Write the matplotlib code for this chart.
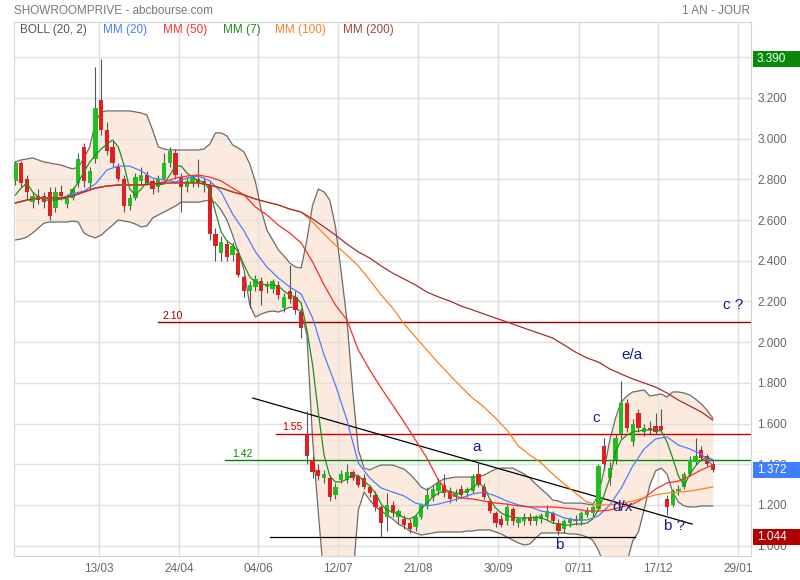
import numpy as np
import matplotlib.pyplot as plt
from matplotlib.patches import Rectangle
import matplotlib.transforms as mtransforms

plt.rcParams['font.family'] = ['Liberation Sans', 'DejaVu Sans']

# one candle per 2 trading days
opens = [2.79, 2.88, 2.80, 2.69, 2.72, 2.72, 2.74, 2.66, 2.74, 2.68,
         2.71, 2.78, 2.96, 2.78, 2.90, 3.19, 3.04, 2.96, 2.86, 2.80,
         2.67, 2.71, 2.79, 2.82, 2.79, 2.76, 2.80, 2.88, 2.93, 2.81,
         2.76, 2.78, 2.80, 2.79, 2.77, 2.53, 2.44, 2.48, 2.43, 2.44,
         2.32, 2.25, 2.27, 2.30, 2.27, 2.26, 2.28, 2.17, 2.25, 2.22,
         2.15, 1.55, 1.42, 1.37, 1.33, 1.33, 1.25, 1.32, 1.32, 1.36,
         1.34, 1.33, 1.29, 1.25, 1.19, 1.14, 1.20, 1.14, 1.13, 1.11,
         1.09, 1.14, 1.20, 1.24, 1.27, 1.30, 1.27, 1.24, 1.28, 1.26,
         1.27, 1.35, 1.29, 1.22, 1.16, 1.13, 1.12, 1.18, 1.11, 1.12,
         1.14, 1.12, 1.13, 1.14, 1.16, 1.11, 1.08, 1.11, 1.13, 1.12,
         1.15, 1.16, 1.18, 1.49, 1.33, 1.42, 1.55, 1.70, 1.51, 1.65,
         1.56, 1.58, 1.59, 1.59, 1.23, 1.20, 1.27, 1.29, 1.35, 1.41,
         1.47, 1.44, 1.40]
highs = [2.89, 2.89, 2.82, 2.74, 2.75, 2.74, 2.76, 2.76, 2.77, 2.73,
         2.76, 2.93, 2.98, 2.86, 3.35, 3.39, 3.08, 2.99, 2.88, 2.82,
         2.73, 2.83, 2.86, 2.84, 2.80, 2.82, 2.93, 2.96, 2.95, 2.83,
         2.81, 2.82, 2.90, 2.81, 2.79, 2.56, 2.52, 2.50, 2.49, 2.46,
         2.33, 2.30, 2.33, 2.32, 2.30, 2.31, 2.30, 2.24, 2.38, 2.25,
         2.17, 1.66, 1.44, 1.40, 1.37, 1.34, 1.31, 1.37, 1.40, 1.37,
         1.35, 1.35, 1.30, 1.27, 1.20, 1.26, 1.22, 1.18, 1.15, 1.13,
         1.15, 1.21, 1.29, 1.30, 1.33, 1.35, 1.29, 1.28, 1.30, 1.29,
         1.35, 1.41, 1.31, 1.23, 1.17, 1.15, 1.21, 1.19, 1.14, 1.16,
         1.16, 1.15, 1.16, 1.20, 1.17, 1.13, 1.13, 1.14, 1.15, 1.17,
         1.19, 1.20, 1.40, 1.53, 1.41, 1.55, 1.81, 1.72, 1.62, 1.67,
         1.60, 1.61, 1.65, 1.67, 1.25, 1.28, 1.30, 1.36, 1.44, 1.53,
         1.49, 1.45, 1.42]
lows = [2.77, 2.76, 2.70, 2.66, 2.68, 2.66, 2.60, 2.64, 2.70, 2.66,
        2.70, 2.76, 2.76, 2.75, 2.88, 3.02, 2.92, 2.86, 2.79, 2.64,
        2.65, 2.70, 2.77, 2.77, 2.73, 2.74, 2.79, 2.86, 2.80, 2.64,
        2.74, 2.76, 2.76, 2.74, 2.50, 2.40, 2.40, 2.40, 2.40, 2.32,
        2.22, 2.17, 2.25, 2.18, 2.24, 2.24, 2.21, 2.15, 2.19, 2.14,
        2.02, 1.40, 1.33, 1.32, 1.31, 1.22, 1.23, 1.31, 1.31, 1.32,
        1.29, 1.28, 1.24, 1.17, 1.044, 1.07, 1.14, 1.11, 1.08, 1.06,
        1.07, 1.13, 1.18, 1.22, 1.25, 1.24, 1.21, 1.22, 1.24, 1.24,
        1.26, 1.29, 1.23, 1.16, 1.09, 1.09, 1.10, 1.10, 1.09, 1.10,
        1.10, 1.10, 1.11, 1.12, 1.11, 1.05, 1.06, 1.09, 1.10, 1.10,
        1.14, 1.14, 1.17, 1.37, 1.30, 1.40, 1.53, 1.56, 1.49, 1.56,
        1.54, 1.55, 1.55, 1.56, 1.15, 1.19, 1.25, 1.28, 1.34, 1.40,
        1.42, 1.39, 1.36]
closes = [2.88, 2.78, 2.74, 2.72, 2.70, 2.69, 2.62, 2.74, 2.72, 2.71,
          2.75, 2.90, 2.79, 2.84, 3.15, 3.04, 2.94, 2.88, 2.80, 2.67,
          2.71, 2.81, 2.82, 2.78, 2.75, 2.80, 2.88, 2.94, 2.82, 2.76,
          2.79, 2.81, 2.78, 2.77, 2.53, 2.47, 2.49, 2.42, 2.47, 2.33,
          2.25, 2.28, 2.31, 2.25, 2.28, 2.30, 2.23, 2.22, 2.21, 2.16,
          2.07, 1.44, 1.36, 1.34, 1.35, 1.24, 1.29, 1.35, 1.36, 1.33,
          1.30, 1.29, 1.26, 1.19, 1.11, 1.20, 1.16, 1.17, 1.10, 1.08,
          1.14, 1.20, 1.25, 1.28, 1.31, 1.26, 1.23, 1.26, 1.25, 1.28,
          1.34, 1.30, 1.24, 1.17, 1.11, 1.10, 1.19, 1.12, 1.13, 1.14,
          1.12, 1.14, 1.15, 1.17, 1.12, 1.07, 1.12, 1.13, 1.12, 1.16,
          1.17, 1.19, 1.39, 1.40, 1.38, 1.53, 1.70, 1.58, 1.60, 1.58,
          1.58, 1.57, 1.56, 1.57, 1.19, 1.27, 1.28, 1.35, 1.42, 1.44,
          1.43, 1.40, 1.372]
candle_day = np.arange(len(closes)) * 2

# bollinger (20, 2) and MM7, same 2-day grid
boll_up = [2.885, 2.895, 2.900, 2.905, 2.895, 2.885, 2.880, 2.875, 2.870, 2.860,
           2.851, 2.860, 2.905, 2.959, 3.082, 3.131, 3.136, 3.136, 3.136, 3.136,
           3.136, 3.131, 3.126, 3.116, 3.042, 2.959, 2.949, 2.944, 2.944, 2.944,
           2.944, 2.944, 2.944, 2.949, 2.973, 3.028, 3.028, 3.013, 2.969, 2.954,
           2.934, 2.875, 2.787, 2.649, 2.551, 2.502, 2.453, 2.423, 2.389, 2.369,
           2.364, 2.502, 2.674, 2.752, 2.738, 2.698, 2.566, 2.344, 2.109, 1.765,
           1.470, 1.381, 1.372, 1.386, 1.396, 1.396, 1.396, 1.386, 1.376, 1.352,
           1.322, 1.288, 1.273, 1.293, 1.313, 1.327, 1.332, 1.337, 1.337, 1.337,
           1.337, 1.337, 1.347, 1.362, 1.376, 1.381, 1.381, 1.381, 1.367, 1.352,
           1.332, 1.303, 1.278, 1.254, 1.224, 1.219, 1.209, 1.209, 1.209, 1.209,
           1.204, 1.200, 1.249, 1.372, 1.519, 1.627, 1.706, 1.735, 1.755, 1.760,
           1.765, 1.735, 1.740, 1.745, 1.730, 1.755, 1.755, 1.750, 1.740, 1.720,
           1.696, 1.666, 1.627]
boll_low = [2.502, 2.507, 2.516, 2.536, 2.561, 2.585, 2.590, 2.590, 2.590, 2.590,
            2.595, 2.590, 2.536, 2.521, 2.512, 2.526, 2.551, 2.575, 2.600, 2.595,
            2.590, 2.580, 2.566, 2.571, 2.610, 2.625, 2.639, 2.654, 2.669, 2.688,
            2.688, 2.688, 2.688, 2.693, 2.698, 2.684, 2.649, 2.600, 2.526, 2.443,
            2.354, 2.182, 2.123, 2.138, 2.148, 2.153, 2.148, 2.158, 2.172, 2.168,
            2.148, 2.035, 1.519, 1.160, 0.831, 0.683, 0.634, 0.634, 0.683, 0.831,
            1.175, 1.263, 1.224, 1.190, 1.170, 1.150, 1.131, 1.106, 1.091, 1.072,
            1.062, 1.052, 1.057, 1.062, 1.067, 1.067, 1.067, 1.067, 1.067, 1.072,
            1.072, 1.077, 1.077, 1.077, 1.067, 1.057, 1.042, 1.027, 1.013, 1.003,
            1.008, 1.037, 1.062, 1.062, 1.062, 1.062, 1.062, 1.057, 1.057, 1.052,
            1.042, 1.027, 0.978, 0.905, 0.806, 0.782, 0.831, 0.919, 1.023, 1.067,
            1.175, 1.298, 1.367, 1.381, 1.352, 1.263, 1.214, 1.195, 1.190, 1.190,
            1.195, 1.195, 1.195]
mm7 = [2.723, 2.757, 2.782, 2.738, 2.713, 2.698, 2.698, 2.698, 2.703, 2.708,
       2.743, 2.787, 2.836, 2.885, 2.919, 2.949, 2.973, 2.993, 2.959, 2.870,
       2.752, 2.723, 2.752, 2.787, 2.777, 2.772, 2.777, 2.821, 2.865, 2.865,
       2.831, 2.811, 2.792, 2.787, 2.747, 2.639, 2.541, 2.497, 2.477, 2.443,
       2.379, 2.320, 2.295, 2.286, 2.281, 2.281, 2.276, 2.251, 2.231, 2.222,
       2.192, 2.059, 1.887, 1.652, 1.445, 1.342, 1.313, 1.313, 1.327, 1.352,
       1.342, 1.317, 1.293, 1.258, 1.204, 1.175, 1.165, 1.155, 1.136, 1.131,
       1.146, 1.180, 1.209, 1.239, 1.258, 1.268, 1.268, 1.258, 1.258, 1.268,
       1.283, 1.308, 1.288, 1.229, 1.185, 1.160, 1.146, 1.141, 1.136, 1.136,
       1.136, 1.141, 1.136, 1.126, 1.111, 1.106, 1.101, 1.101, 1.106, 1.106,
       1.111, 1.131, 1.175, 1.249, 1.332, 1.460, 1.519, 1.543, 1.558, 1.563,
       1.568, 1.568, 1.568, 1.563, 1.509, 1.430, 1.342, 1.293, 1.352, 1.391,
       1.421, 1.435, 1.421]

# slower averages, every 4 trading days
ma_day = np.arange(62) * 4
mm20 = [2.684, 2.698, 2.708, 2.708, 2.708, 2.728, 2.743, 2.777, 2.846, 2.865,
        2.865, 2.841, 2.806, 2.797, 2.787, 2.806, 2.816, 2.792, 2.738, 2.629,
        2.546, 2.443, 2.369, 2.315, 2.271, 2.236, 2.118, 1.937, 1.789, 1.617,
        1.406, 1.332, 1.283, 1.263, 1.244, 1.209, 1.195, 1.204, 1.219, 1.234,
        1.254, 1.263, 1.244, 1.219, 1.200, 1.190, 1.170, 1.160, 1.136, 1.126,
        1.126, 1.146, 1.200, 1.283, 1.391, 1.475, 1.524, 1.534, 1.494, 1.475,
        1.450, 1.396]
mm50 = [2.684, 2.698, 2.708, 2.708, 2.708, 2.718, 2.738, 2.757, 2.767, 2.772,
        2.772, 2.772, 2.777, 2.787, 2.806, 2.816, 2.821, 2.811, 2.792, 2.757,
        2.723, 2.664, 2.625, 2.575, 2.536, 2.487, 2.394, 2.281, 2.182, 2.109,
        1.961, 1.863, 1.774, 1.691, 1.607, 1.519, 1.430, 1.322, 1.254, 1.234,
        1.229, 1.219, 1.209, 1.204, 1.195, 1.190, 1.190, 1.190, 1.185, 1.180,
        1.170, 1.170, 1.175, 1.190, 1.204, 1.234, 1.278, 1.308, 1.317, 1.342,
        1.372, 1.396]
mm100 = [2.684, 2.698, 2.708, 2.708, 2.708, 2.718, 2.738, 2.757, 2.767, 2.772,
         2.772, 2.772, 2.777, 2.782, 2.782, 2.782, 2.782, 2.772, 2.757, 2.738,
         2.723, 2.703, 2.688, 2.674, 2.654, 2.639, 2.590, 2.531, 2.477, 2.428,
         2.374, 2.305, 2.231, 2.168, 2.089, 2.025, 1.961, 1.897, 1.838, 1.779,
         1.725, 1.681, 1.627, 1.568, 1.489, 1.445, 1.406, 1.352, 1.303, 1.258,
         1.214, 1.200, 1.200, 1.209, 1.219, 1.234, 1.249, 1.258, 1.263, 1.268,
         1.278, 1.288]
mm200 = [2.684, 2.698, 2.708, 2.708, 2.708, 2.718, 2.738, 2.757, 2.767, 2.772,
         2.772, 2.772, 2.777, 2.782, 2.782, 2.782, 2.782, 2.772, 2.757, 2.738,
         2.723, 2.703, 2.688, 2.674, 2.654, 2.639, 2.605, 2.566, 2.526, 2.482,
         2.443, 2.413, 2.374, 2.339, 2.310, 2.281, 2.246, 2.222, 2.202, 2.177,
         2.158, 2.138, 2.118, 2.099, 2.079, 2.059, 2.040, 2.020, 1.986, 1.951,
         1.922, 1.902, 1.868, 1.843, 1.819, 1.799, 1.779, 1.750, 1.715, 1.686,
         1.657, 1.617]

tick_days = [29.2, 57.2, 84.9, 112.9, 140.9, 168.9, 197.2, 224.9, 252.9]
tick_labels = ['13/03', '24/04', '04/06', '12/07', '21/08', '30/09', '07/11', '17/12', '29/01']
y_ticks = [1.0, 1.2, 1.4, 1.6, 1.8, 2.0, 2.2, 2.4, 2.6, 2.8, 3.0, 3.2, 3.4]

# horizontal levels drawn by hand on the chart
levels = [2.10, 1.55, 1.42]
level_start = [49.9, 91.2, 73.3]
level_label_day = [51.3, 93.3, 75.8]
level_colors = ['#990000', '#cc0000', '#008800']
trend_days = [83.1, 236.8]
trend_vals = [1.725, 1.106]
support_days = [89.1, 216.8]
support_val = 1.044

wave_text = ['c ?', 'e/a', 'c', 'a', 'd/x', 'b ?', 'b']
wave_day = [251.1, 215.8, 203.2, 161.5, 212.6, 230.5, 190.2]
wave_val = [2.182, 1.937, 1.627, 1.485, 1.190, 1.096, 1.003]

last_high = 3.390
last_close = 1.372
last_low = 1.044

fig = plt.figure(figsize=(8, 5.8), dpi=100)
ax = fig.add_axes([14 / 800, 24 / 580, 737 / 800, 534 / 580])
ax.set_xlim(-0.5, 257.4)
ax.set_ylim(0.949, 3.573)
ax.set_axisbelow(True)

# bollinger band
ax.fill_between(candle_day, boll_low, boll_up, color='#fdeade', lw=0, zorder=0.2)
ax.plot(candle_day, boll_up, color='#6b6b6b', lw=0.9, zorder=1)
ax.plot(candle_day, boll_low, color='#6b6b6b', lw=0.9, zorder=1)

# candles
o = np.array(opens)
c = np.array(closes)
up = c >= o
cols = np.where(up, '#1fbf1f', '#e02020')
bottoms = np.minimum(o, c)
heights = np.maximum(np.abs(c - o), 0.006)
ax.vlines(candle_day, lows, highs, color='#555555', lw=0.8, zorder=2.8)
ax.bar(candle_day, heights, width=1.5, bottom=bottoms, color=cols, lw=0, zorder=3)

# moving averages
ax.plot(candle_day, mm7, color='#1f8f1f', lw=0.9, zorder=4)
ax.plot(ma_day, mm20, color='#4d7cff', lw=0.9, zorder=4)
ax.plot(ma_day, mm50, color='#ff2a2a', lw=0.9, zorder=4)
ax.plot(ma_day, mm100, color='#ff7f1a', lw=0.9, zorder=4)
ax.plot(ma_day, mm200, color='#a03030', lw=0.9, zorder=4.1)

# hand drawn lines
for lv, x0, xl, col in zip(levels, level_start, level_label_day, level_colors):
    ax.plot([x0, 257.4], [lv, lv], color=col, lw=1.0, zorder=2.5)
    ax.text(xl, lv + 0.006, '%.2f' % lv, color=col, fontsize=7.5, ha='left', va='bottom')
ax.plot(trend_days, trend_vals, color='black', lw=0.9, zorder=2.5)
ax.plot(support_days, [support_val, support_val], color='black', lw=0.9, zorder=2.5)

for t, d, v in zip(wave_text, wave_day, wave_val):
    ax.text(d, v, t, color='#1c1c8c', fontsize=11, ha='center', va='center', zorder=6)

# axes look
for s in ax.spines.values():
    s.set_color('#d4d4d4')
ax.set_xticks(tick_days)
ax.set_xticklabels(tick_labels)
ax.set_yticks(y_ticks)
ax.set_yticklabels(['%.3f' % v for v in y_ticks])
ax.yaxis.tick_right()
ax.tick_params(length=0, labelsize=8.5, colors='#666666')
ax.tick_params(axis='y', pad=4.5)
ax.tick_params(axis='x', pad=5)
ax.grid(True, color='#e0e0e0', lw=1)

# legend row
leg_txt = ['BOLL (20, 2)', 'MM (20)', 'MM (50)', 'MM (7)', 'MM (100)', 'MM (200)']
leg_col = ['#555555', '#4d7cff', '#ff3333', '#228b22', '#ff7f27', '#a04545']
leg_x = [0.008, 0.121, 0.202, 0.2836, 0.354, 0.446]
for t, col, x in zip(leg_txt, leg_col, leg_x):
    ax.text(x, 0.985, t, color=col, fontsize=8.5, ha='left', va='center', transform=ax.transAxes)

# last value boxes on the right
trans = mtransforms.blended_transform_factory(ax.transAxes, ax.transData)
for v, col in [(last_high, '#088a08'), (last_close, '#3f7fff'), (last_low, '#b00000')]:
    ax.add_patch(Rectangle((1.0027, v - 0.039), 0.07, 0.078, transform=trans,
                           facecolor=col, edgecolor='none', clip_on=False, zorder=10))
    ax.text(1.008, v, '%.3f' % v, transform=trans, color='white', fontsize=8.5,
            ha='left', va='center', clip_on=False, zorder=11)

fig.text(14 / 800, 1 - 11 / 580, 'SHOWROOMPRIVE - abcbourse.com', color='#777777',
         fontsize=8.5, ha='left', va='center')
fig.text(750 / 800, 1 - 11 / 580, '1 AN - JOUR', color='#777777', fontsize=8.5,
         ha='right', va='center')

fig.savefig('out.png', dpi=100)
